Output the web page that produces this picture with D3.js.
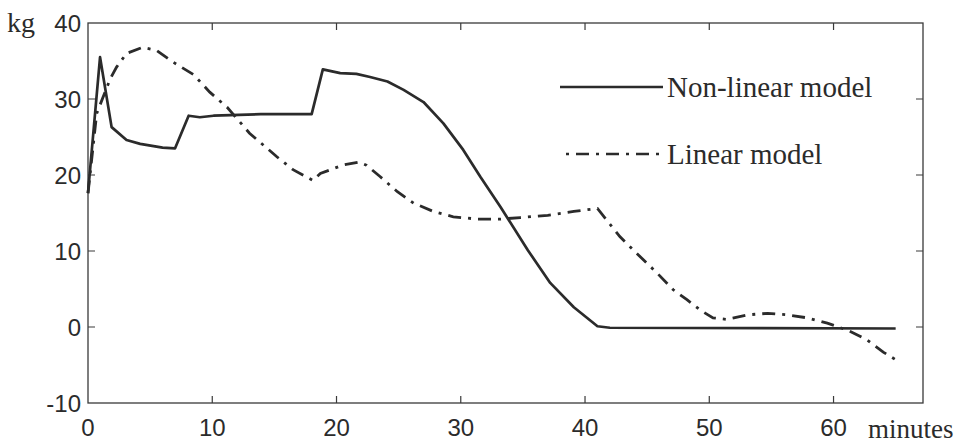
<!DOCTYPE html>
<html>
<head>
<meta charset="utf-8">
<script src="https://cdn.jsdelivr.net/npm/d3@7"></script>
<style>
  body { margin: 0; background: #fff; }
  svg { display: block; }
</style>
</head>
<body>
<svg width="967" height="446"></svg>
<script>
// minutes / kg
const nonLinearX = [0, 0.97, 1.9, 3.1, 4.2, 6.0, 7.0, 8.1, 9.0, 10.1, 13.9, 18.0, 18.9, 20.3, 21.6, 22.7, 24.1, 25.4, 27.0, 28.6, 30.2, 31.6, 33.2, 35.4, 37.2, 39.1, 41.0, 42.0, 65.0];
const nonLinearY = [17.6, 35.5, 26.3, 24.6, 24.1, 23.6, 23.5, 27.8, 27.6, 27.8, 28.0, 28.0, 33.9, 33.4, 33.3, 32.9, 32.3, 31.2, 29.6, 26.8, 23.3, 19.7, 15.8, 10.1, 5.8, 2.6, 0.1, -0.1, -0.2];
const linearX = [0, 0.7, 1.8, 2.3, 3.1, 4.4, 5.5, 6.8, 8.5, 9.8, 11.2, 13.0, 15.2, 16.5, 18.1, 18.7, 20.5, 21.8, 22.4, 23.5, 24.9, 26.2, 27.8, 29.4, 31.3, 33.2, 34.8, 37.0, 39.1, 41.0, 42.8, 43.9, 45.8, 47.1, 48.2, 49.3, 50.3, 51.4, 53.1, 54.7, 56.3, 57.9, 59.5, 61.1, 62.7, 64.0, 65.0];
const linearY = [17.6, 28.1, 32.7, 34.2, 36.0, 36.8, 36.4, 34.9, 33.2, 30.9, 28.9, 25.5, 22.4, 20.7, 19.3, 20.2, 21.3, 21.7, 21.3, 19.8, 17.8, 16.3, 15.2, 14.5, 14.2, 14.2, 14.4, 14.7, 15.2, 15.6, 11.9, 10.1, 7.1, 4.9, 3.6, 2.2, 1.2, 1.0, 1.6, 1.8, 1.6, 1.2, 0.5, -0.4, -1.7, -3.3, -4.3];
const xTicks = [0, 10, 20, 30, 40, 50, 60];
const yTicks = [-10, 0, 10, 20, 30, 40];
const seriesNames = ["Non-linear model", "Linear model"];

const svg = d3.select('svg');
const margin = { top: 23, left: 88, right: 44, bottom: 43 };
const width = +svg.attr('width') - margin.left - margin.right;
const height = +svg.attr('height') - margin.top - margin.bottom;
const ink = '#2b2b2b';

const g = svg.append('g').attr('transform', `translate(${margin.left}, ${margin.top})`);

const x = d3.scaleLinear().domain([0, 67.2]).range([0, width]);
const y = d3.scaleLinear().domain([-10, 40]).range([height, 0]);

// box with inward ticks on all four sides
function box(g) {
    g.append('rect')
        .attr('width', width).attr('height', height)
        .attr('fill', 'none').attr('stroke', '#3a3a3a').attr('stroke-width', 1.3);
    const tl = 7;
    g.selectAll('.xt').data(xTicks.slice(1)).enter().append('path')
        .attr('d', d => `M${x(d)},${height}v${-tl}M${x(d)},0v${tl}`)
        .attr('stroke', '#3a3a3a').attr('stroke-width', 1.2);
    g.selectAll('.yt').data(yTicks.slice(1, -1)).enter().append('path')
        .attr('d', d => `M0,${y(d)}h${tl}M${width},${y(d)}h${-tl}`)
        .attr('stroke', '#3a3a3a').attr('stroke-width', 1.2);
}
g.call(box);

const tickFont = '"Liberation Sans", Arial, sans-serif';
g.selectAll('.xl').data(xTicks).enter().append('text')
    .attr('x', d => x(d)).attr('y', height + 33)
    .attr('text-anchor', 'middle')
    .attr('fill', ink)
    .style('font-family', tickFont).style('font-size', '24px')
    .text(d => d);
g.selectAll('.yl').data(yTicks).enter().append('text')
    .attr('x', -7).attr('y', d => y(d)).attr('dy', '0.36em')
    .attr('text-anchor', 'end')
    .attr('fill', ink)
    .style('font-family', tickFont).style('font-size', '24px')
    .text(d => d);

const serif = '"Liberation Serif", "Times New Roman", serif';
svg.append('text').attr('x', 7).attr('y', 32)
    .attr('fill', ink).style('font-family', serif).style('font-size', '28px')
    .text('kg');
svg.append('text').attr('x', 868).attr('y', 438)
    .attr('fill', ink).style('font-family', serif).style('font-size', '27px')
    .text('minutes');

const line = d3.line()
    .x(d => x(d[0]))
    .y(d => y(d[1]));

const dash = '13,7,3,7';
g.append('path')
    .datum(d3.zip(linearX, linearY))
    .attr('d', line)
    .attr('fill', 'none').attr('stroke', ink).attr('stroke-width', 2.8)
    .attr('stroke-dasharray', dash);
g.append('path')
    .datum(d3.zip(nonLinearX, nonLinearY))
    .attr('d', line)
    .attr('fill', 'none').attr('stroke', ink).attr('stroke-width', 2.7)
    .attr('stroke-linejoin', 'round');

// legend
const legend = svg.append('g').attr('transform', 'translate(560, 0)');
const legendY = [87, 154];
seriesNames.forEach((name, i) => {
    legend.append('line')
        .attr('x1', i === 0 ? 0 : 6).attr('x2', 103)
        .attr('y1', legendY[i]).attr('y2', legendY[i])
        .attr('stroke', ink).attr('stroke-width', 2.7)
        .attr('stroke-dasharray', i === 0 ? null : '3,7,13,7');
    legend.append('text')
        .attr('x', 107).attr('y', legendY[i] + 10)
        .attr('fill', ink).style('font-family', serif).style('font-size', '29px')
        .text(name);
});
</script>
</body>
</html>
